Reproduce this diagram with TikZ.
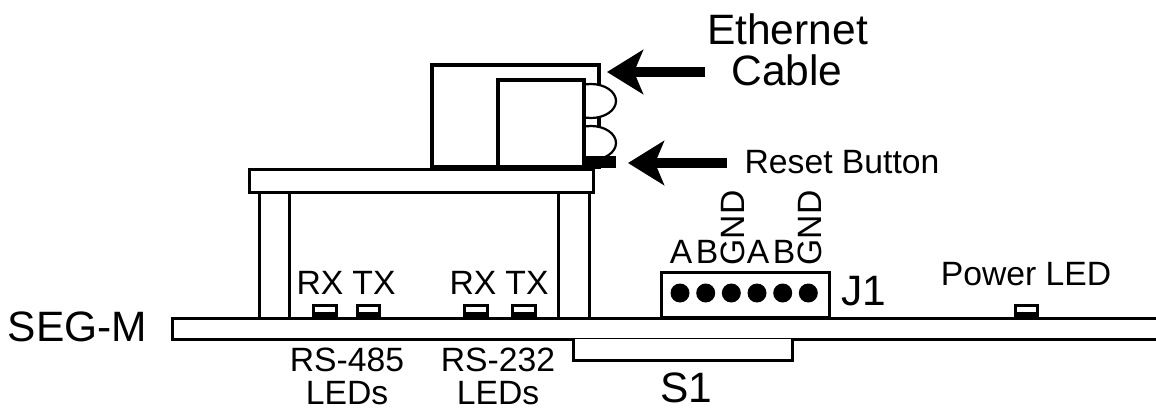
\documentclass[tikz,border=0pt]{standalone}
\usepackage{fontspec}
\setmainfont{Liberation Sans}
\usetikzlibrary{arrows.meta}
\tikzset{
    part/.style={draw=black,line width=3pt,fill=white},
    jack/.style={draw=black,line width=3.4pt,fill=white},
    oval/.style={draw=black,line width=2.2pt,fill=white},
    pointer/.style={line width=10pt,-{Stealth[length=36pt,width=44pt,inset=9pt]}},
    label/.style={font=\fontsize{33.7}{34}\selectfont,inner sep=0pt,align=center},
    biglabel/.style={font=\fontsize{42.5}{42}\selectfont,inner sep=0pt,align=center}
}

\begin{document}
\begin{tikzpicture}[x=1pt,y=-1pt]
        \useasboundingbox (0,0) rectangle (1156,409);
        % Board
        \draw[part] (1160,318) -- (172,318) -- (172,339) -- (1160,339);
        \draw[part] (573,339) -- (573,360) -- (792,360) -- (792,339);
        % Standoffs and top plate
        \draw[part] (259,192) rectangle (289,318);
        \draw[part] (558,192) rectangle (589,318);
        \draw[part] (249,169) rectangle (593,192);
        % Jack
        \draw[jack] (432,65) rectangle (599,167);
        \draw[oval] (591,101) ellipse (25 and 17);
        \draw[oval] (591,143) ellipse (25 and 17);
        \draw[jack] (498,80) rectangle (584,167);
        \fill[black] (584,156) rectangle (616,168);
        % Arrows
        \coordinate (cabletail) at (705,72);
        \coordinate (cabletip) at (607,72);
        \coordinate (resettail) at (727,163);
        \coordinate (resettip) at (628,163);
        \draw[pointer] (cabletail) -- (cabletip);
        \draw[pointer] (resettail) -- (resettip);
        % LEDs
        \draw[part] (313,305.5) rectangle (336,313);
        \fill[black] (311.5,313) rectangle (337.5,318);
        \draw[part] (357,305.5) rectangle (379,313);
        \fill[black] (355.5,313) rectangle (380.5,318);
        \draw[part] (464,305) rectangle (487,313);
        \fill[black] (462.5,313) rectangle (488.5,318);
        \draw[part] (512,305) rectangle (535,313);
        \fill[black] (510.5,313) rectangle (536.5,318);
        \draw[part] (1015.5,305) rectangle (1037.5,313);
        \fill[black] (1014,313) rectangle (1039,318);
        % Connector
        \draw[part] (661,272) rectangle (829,317);
        \fill[black] (680,293) circle (9.5);
        \fill[black] (705.7,293) circle (9.5);
        \fill[black] (731.3,293) circle (9.5);
        \fill[black] (757,293) circle (9.5);
        \fill[black] (782.7,293) circle (9.5);
        \fill[black] (808.3,293) circle (9.5);
        % Labels
        \node[biglabel] (ethernet) at (787.5,29) {Ethernet};
        \node[biglabel] (cable) at (787,70) {Cable};
        \node[label] (reset) at (842,162) {Reset Button};
        \node[biglabel] (segm) at (77.5,327) {SEG-M};
        \node[label] (rxa) at (320,283) {RX};
        \node[label] (txa) at (374,283) {TX};
        \node[label] (rxb) at (473,283) {RX};
        \node[label] (txb) at (527,283) {TX};
        \node[label] (rsa) at (347,360) {RS-485};
        \node[label] (leda) at (347,393) {LEDs};
        \node[label] (rsb) at (498,360) {RS-232};
        \node[label] (ledb) at (498,393) {LEDs};
        \node[label] (pina) at (681,252) {A};
        \node[label] (pinb) at (707,252) {B};
        \node[label,rotate=90] (pinc) at (733,228) {GND};
        \node[label] (pind) at (758,252) {A};
        \node[label] (pine) at (784,252) {B};
        \node[label,rotate=90] (pinf) at (810,228) {GND};
        \node[biglabel] (jone) at (864,291) {J1};
        \node[label] (power) at (1026,274) {Power LED};
        \node[biglabel] (sone) at (686,388) {S1};
    \end{tikzpicture}
\end{document}
